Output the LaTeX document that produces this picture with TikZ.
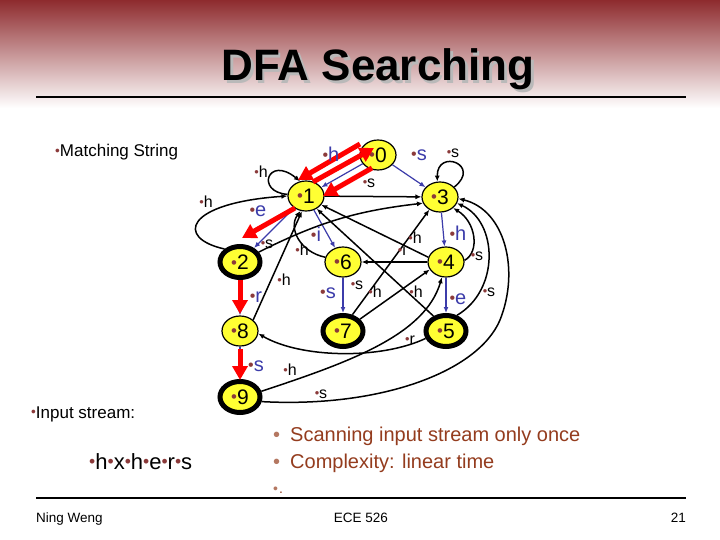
\documentclass[tikz,border=0pt]{standalone}
\usepackage{fontspec}
\setmainfont{Liberation Sans}
\usetikzlibrary{arrows.meta,shapes.geometric,calc}
\definecolor{titred}{HTML}{8E2B2E}
\definecolor{dotred}{HTML}{8B3A3A}
\definecolor{trie}{HTML}{3C3CAA}
\definecolor{statey}{HTML}{FFFF33}
\definecolor{notes}{HTML}{943C1E}
\newcommand{\bul}{\raisebox{.06em}{\scalebox{.8}{\color{dotred}•}}}
\tikzset{
  state/.style={ellipse,draw=black,line width=1.2pt,fill=statey,minimum width=36pt,
    minimum height=30pt,inner sep=0pt,font=\fontsize{21}{21}\selectfont},
  accept/.style={state,line width=5pt,minimum width=40pt,minimum height=31pt},
  lab/.style={font=\fontsize{16}{16}\selectfont,inner sep=0pt},
  blab/.style={font=\fontsize{20}{20}\selectfont,text=trie,inner sep=0pt},
  move/.style={-{Latex[length=6pt,width=5pt]},line width=1.5pt},
  goto/.style={-{Latex[length=6pt,width=5pt]},line width=1.2pt,draw=trie},
  hot/.style={-{Triangle[length=14pt,width=15pt]},line width=5pt,draw=red},
  note/.style={font=\fontsize{20}{20}\selectfont,text=notes,anchor=base west,inner sep=0pt},
  foot/.style={font=\fontsize{13.5}{13.5}\selectfont,anchor=base,inner sep=0pt}
}
\begin{document}
\begin{tikzpicture}[x=1pt,y=-1pt]
\useasboundingbox (0,0) rectangle (720,540);
\fill[white] (0,0) rectangle (720,540);
\shade[top color=titred,middle color=titred!40!white,bottom color=white] (0,0) rectangle (720,108);
% title and rules
\node[font=\fontsize{44}{44}\selectfont\bfseries,anchor=base] (title) at (378,81)
  {\makebox[0pt][l]{\kern2.5pt\raisebox{-2.5pt}{\textcolor{gray!55}{DFA Searching}}}DFA Searching};
\draw[line width=2.5pt] (36,97) -- (686,97);
\draw[line width=2.5pt] (36,498) -- (686,498);
\node[foot,anchor=base west] (author) at (36,522) {Ning Weng};
\node[foot] (course) at (361,522) {ECE 526};
\node[foot,anchor=base east] (page) at (686,522) {21};
% left side text
\node[font=\fontsize{17}{17}\selectfont,anchor=base west,inner sep=0pt] (match) at (55,157) {\bul Matching String};
\node[font=\fontsize{17}{17}\selectfont,anchor=base west,inner sep=0pt] (input) at (31,418) {\bul Input stream:};
\node[font=\fontsize{22}{22}\selectfont,anchor=base west,inner sep=0pt] (stream) at (89,469) {\bul h\bul x\bul h\bul e\bul r\bul s};
% notes
\node[note] (once) at (273,441) {\textcolor{notes!70}{•}\kern10pt Scanning input stream only once};
\node[note] (linear) at (273,468) {\textcolor{notes!70}{•}\kern10pt Complexity: linear time};
\node[note,font=\fontsize{14}{14}\selectfont] (empty) at (273,493) {\textcolor{notes!70}{•}\kern1pt.};
% states
\node[state] (n0) at (378,155) {\bul0};
\node[state] (n1) at (306,196) {\bul1};
\node[state] (n3) at (440,197) {\bul3};
\node[accept] (n2) at (240,262) {\bul2};
\node[state] (n6) at (343,262) {\bul6};
\node[state] (n4) at (446,262) {\bul4};
\node[state] (n8) at (240,331) {\bul8};
\node[accept] (n7) at (343,331) {\bul7};
\node[accept] (n5) at (446,331) {\bul5};
\node[accept] (n9) at (240,397) {\bul9};
% trie edges
\draw[goto] (n0) -- (n1);
\draw[goto] (n0) -- (n3);
\draw[goto] (n1) -- (n2);
\draw[goto] (n1) -- (n6);
\draw[goto] (n6) -- (n7);
\draw[goto] (n3) -- (n4);
\draw[goto] (n4) -- (n5);
\draw[goto] (n2) -- (n8);
\draw[goto] (n8) -- (n9);
% other transitions
\draw[move] (n1.175) .. controls (255,192) and (268,155) .. (n1.112);
\draw[move] (n3.35) .. controls (482,165) and (437,148) .. (n3.100);
\draw[move] (n2.140) .. controls (175,238) and (185,203) .. (n1.west);
\draw[move] (n1) -- (n3);
\draw[move] (n2) to[bend left=10] (n3.200);
\draw[move] (n6.165) .. controls (300,252) and (288,228) .. (n1.250);
\draw[move] (n8.40) -- (n1.255);
\draw[move] (n4.165) -- (n1.330);
\draw[move] (n5.130) -- (n1.310);
\draw[move] (n4) -- (n6);
\draw[move] (n7.60) -- (n3.230);
\draw[move] (n7.35) -- (n4.205);
\draw[move] (n4.5) .. controls (480,252) and (476,222) .. (n3.-40);
\draw[move] (n5.55) .. controls (500,290) and (498,222) .. (n3.-20);
\draw[move] (n9.-12) .. controls (380,408) and (478,372) .. (500,320) .. controls (520,270) and (505,210) .. (n3.-5);
\draw[move] (n9.15) .. controls (350,362) and (425,335) .. (n4.255);
\draw[move] (n5.200) .. controls (380,360) and (300,358) .. (n8.-8);
% highlighted run
\draw[hot] ($(n0)+(-18,-11)$) -- ($(n1)+(-8,-16)$);
\draw[hot] ($(n1)+(7,-14)$) -- ($(n0)+(-4,-7)$);
\draw[hot] ($(n0)+(-6,13)$) -- ($(n1)+(17,0)$);
\draw[hot] ($(n1)+(-11,12)$) -- ($(n2)+(2,-24)$);
\draw[hot] ($(n2)+(0,18)$) -- ($(n8)+(0,-17)$);
\draw[hot] ($(n8)+(0,18)$) -- ($(n9)+(0,-17)$);
% labels
\node[blab] (l01) at (331,154) {\bul h};
\node[blab] (l03) at (419,155) {\bul s};
\node[lab] (l33) at (453,153) {\bul s};
\node[lab] (l13) at (369,183) {\bul s};
\node[lab] (l11) at (261,172) {\bul h};
\node[lab] (l21) at (206,202) {\bul h};
\node[blab] (l12) at (258,211) {\bul e};
\node[blab] (l16) at (316,234) {\bul i};
\node[lab] (l23) at (267,244) {\bul s};
\node[lab] (l61) at (302,250) {\bul h};
\node[lab] (l41) at (415,238) {\bul h};
\node[lab] (l46) at (402,250) {\bul i};
\node[blab] (l34) at (458,233) {\bul h};
\node[lab] (l43) at (477,256) {\bul s};
\node[lab] (l81) at (284,280) {\bul h};
\node[blab] (l28) at (256,297) {\bul r};
\node[blab] (l67) at (328,293) {\bul s};
\node[lab] (l73) at (357,285) {\bul s};
\node[lab] (l74) at (375,292) {\bul h};
\node[lab] (l51) at (416,292) {\bul h};
\node[blab] (l45) at (458,299) {\bul e};
\node[lab] (l53) at (489,292) {\bul s};
\node[lab] (l58) at (410,340) {\bul r};
\node[blab] (l89) at (256,366) {\bul s};
\node[lab] (l94) at (290,370) {\bul h};
\node[lab] (l93) at (321,394) {\bul s};
\end{tikzpicture}
\end{document}
